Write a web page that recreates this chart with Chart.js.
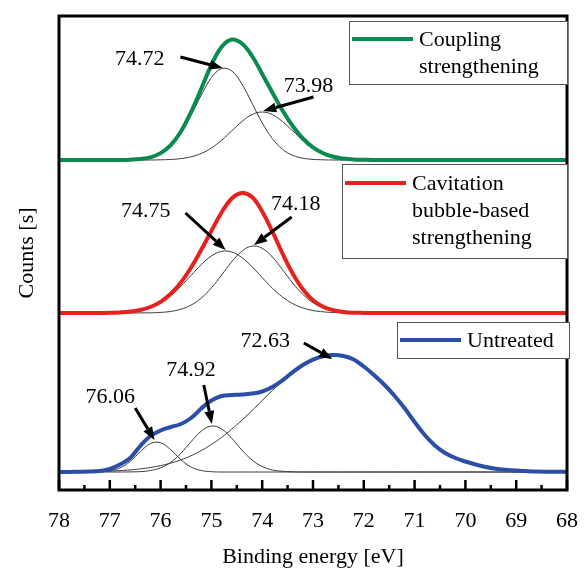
<!DOCTYPE html>
<html>
<head>
<meta charset="utf-8">
<title>XPS Si 2p spectra</title>
<script src="https://cdn.jsdelivr.net/npm/chart.js@4.4.1/dist/chart.umd.min.js"></script>
<style>
  html, body { margin: 0; padding: 0; background: #fff; }
  #wrap { width: 588px; height: 570px; }
</style>
</head>
<body>
<div id="wrap"><canvas id="xpsChart" width="588" height="570"></canvas></div>
<script>
// -------------------------------
// Data (arbitrary counts)
// -------------------------------
const energy = [78.0, 77.8, 77.6, 77.4, 77.2, 77.0, 76.8, 76.6, 76.4, 76.2,
  76.0, 75.8, 75.6, 75.4, 75.2, 75.0, 74.8, 74.6, 74.4, 74.2,
  74.0, 73.8, 73.6, 73.4, 73.2, 73.0, 72.8, 72.6, 72.4, 72.2,
  72.0, 71.8, 71.6, 71.4, 71.2, 71.0, 70.8, 70.6, 70.4, 70.2,
  70.0, 69.8, 69.6, 69.4, 69.2, 69.0, 68.8, 68.6, 68.4, 68.2,
  68.0];

// Coupling strengthening
const couplingEnvelope = [0, 0, 0, 0, 0, 0, 0, 0.3, 1.0, 2.7,
  6.9, 14.9, 28.5, 48.0, 71.3, 95.0, 113.0, 120.5, 116.5, 104.0,
  86.0, 67.5, 49.5, 34.0, 21.5, 12.6, 6.7, 3.2, 1.4, 0.5,
  0.2, 0, 0, 0, 0, 0, 0, 0, 0, 0,
  0, 0, 0, 0, 0, 0, 0, 0, 0, 0,
  0];
const couplingPeak7472 = [0, 0, 0, 0, 0, 0, 0, 0.3, 1.0, 2.7,
  6.7, 14.4, 27.1, 44.8, 64.8, 82.3, 91.4, 89.1, 76.0, 56.8,
  37.2, 21.4, 10.7, 4.7, 1.8, 0.6, 0.2, 0, 0, 0,
  0, 0, 0, 0, 0, 0, 0, 0, 0, 0,
  0, 0, 0, 0, 0, 0, 0, 0, 0, 0,
  0];
const couplingPeak7398 = [0, 0, 0, 0, 0, 0, 0, 0, 0, 0,
  0.2, 0.5, 1.4, 3.2, 6.5, 12.0, 19.7, 29.1, 38.4, 45.4,
  48.0, 45.4, 38.4, 29.1, 19.7, 12.0, 6.5, 3.2, 1.4, 0.5,
  0.2, 0, 0, 0, 0, 0, 0, 0, 0, 0,
  0, 0, 0, 0, 0, 0, 0, 0, 0, 0,
  0];

// Cavitation bubble-based strengthening
const cavitationEnvelope = [0, 0, 0, 0, 0.1, 0.2, 0.6, 1.4, 3.0, 6.0,
  11.1, 19.2, 30.6, 45.5, 63.2, 82.1, 100.5, 114.5, 120.0, 116.0,
  101.5, 81.5, 59.5, 39.5, 23.7, 12.8, 6.3, 2.8, 1.1, 0.3,
  0.1, 0, 0, 0, 0, 0, 0, 0, 0, 0,
  0, 0, 0, 0, 0, 0, 0, 0, 0, 0,
  0];
const cavitationPeak7475 = [0, 0, 0, 0, 0.1, 0.2, 0.6, 1.4, 2.9, 5.8,
  10.5, 17.6, 26.8, 37.6, 48.3, 57.0, 61.6, 61.0, 55.5, 46.3,
  35.4, 24.8, 16.0, 9.4, 5.1, 2.5, 1.2, 0.5, 0.2, 0,
  0, 0, 0, 0, 0, 0, 0, 0, 0, 0,
  0, 0, 0, 0, 0, 0, 0, 0, 0, 0,
  0];
const cavitationPeak7418 = [0, 0, 0, 0, 0, 0, 0, 0, 0.1, 0.2,
  0.6, 1.6, 3.8, 7.9, 14.9, 25.1, 37.9, 51.2, 61.8, 66.9,
  64.7, 56.0, 43.3, 30.0, 18.6, 10.3, 5.1, 2.3, 0.9, 0.3,
  0.1, 0, 0, 0, 0, 0, 0, 0, 0, 0,
  0, 0, 0, 0, 0, 0, 0, 0, 0, 0,
  0];

// Untreated
const untreatedEnvelope = [0.1, 0.1, 0.2, 0.4, 1.0, 3.0, 7.5, 14.0, 26.0, 36.0,
  41.5, 45.0, 48.0, 54.0, 63.5, 71.5, 76.0, 77.0, 77.5, 78.5,
  80.5, 85.0, 91.7, 99.8, 107.0, 112.4, 115.8, 117.0, 116.0, 112.5,
  105.5, 97.0, 87.5, 76.5, 64.0, 50.0, 37.0, 26.5, 19.0, 14.0,
  10.5, 7.5, 5.0, 3.3, 2.2, 1.4, 0.9, 0.5, 0.3, 0.2,
  0.1];
const untreatedPeak7606 = [0, 0, 0, 0, 0.2, 1.1, 4.1, 10.6, 20.2, 28.4,
  29.3, 22.2, 12.3, 5.0, 1.5, 0.3, 0, 0, 0, 0,
  0, 0, 0, 0, 0, 0, 0, 0, 0, 0,
  0, 0, 0, 0, 0, 0, 0, 0, 0, 0,
  0, 0, 0, 0, 0, 0, 0, 0, 0, 0,
  0];
const untreatedPeak7492 = [0, 0, 0, 0, 0, 0, 0, 0.1, 0.4, 1.5,
  4.2, 9.7, 18.7, 30.3, 40.8, 45.9, 43.1, 33.7, 22.0, 12.0,
  5.5, 2.1, 0.7, 0.2, 0, 0, 0, 0, 0, 0,
  0, 0, 0, 0, 0, 0, 0, 0, 0, 0,
  0, 0, 0, 0, 0, 0, 0, 0, 0, 0,
  0];
const untreatedPeak7263 = [0.1, 0.1, 0.2, 0.4, 0.6, 0.9, 1.4, 2.1, 3.1, 4.5,
  6.4, 8.9, 12.2, 16.3, 21.4, 27.5, 34.6, 42.8, 51.8, 61.4,
  71.5, 81.5, 91.0, 99.6, 106.9, 112.4, 115.8, 117.0, 116.0, 112.5,
  105.5, 97.0, 87.5, 76.5, 64.0, 50.0, 37.0, 26.5, 19.0, 14.0,
  10.5, 7.5, 5.0, 3.3, 2.2, 1.4, 0.9, 0.5, 0.3, 0.2,
  0.1];

// Axis ticks
const tickValues = [78, 77, 76, 75, 74, 73, 72, 71, 70, 69, 68];
const minorTickValues = [77.5, 76.5, 75.5, 74.5, 73.5, 72.5, 71.5, 70.5, 69.5, 68.5];

// Legend names
const couplingName = ['Coupling', 'strengthening'];
const cavitationName = ['Cavitation', 'bubble-based', 'strengthening'];
const untreatedName = ['Untreated'];

// -------------------------------
// Layout / style
// -------------------------------
const FONT = '"Liberation Serif", "Times New Roman", serif';
const THIN = '#3a3a3a';
const GREEN = '#0b8a50';
const RED = '#e8211c';
const BLUE = '#2b4fa6';

// vertical offset of each panel (plot units, axis runs 0..474)
const base = { coupling: 330, cavitation: 177, untreated: 18 };

// peak labels: text position, arrow tail and arrow tip in (eV, counts above panel base)
const notes = [
  { panel: 'coupling', text: '74.72', at: [76.41, 101], tail: [75.61, 103], tip: [74.78, 92] },
  { panel: 'coupling', text: '73.98', at: [73.09, 74], tail: [72.99, 63], tip: [73.98, 49] },
  { panel: 'cavitation', text: '74.75', at: [76.29, 102], tail: [75.51, 100], tip: [74.72, 63] },
  { panel: 'cavitation', text: '74.18', at: [73.34, 109], tail: [73.42, 96], tip: [74.16, 68] },
  { panel: 'untreated', text: '76.06', at: [76.99, 75], tail: [76.50, 64], tip: [76.12, 32] },
  { panel: 'untreated', text: '74.92', at: [75.40, 102], tail: [75.15, 87], tip: [74.99, 48] },
  { panel: 'untreated', text: '72.63', at: [73.94, 131], tail: [73.18, 129], tip: [72.62, 113] }
];

// legend boxes in canvas pixels
const legends = [
  { names: couplingName, color: GREEN, x: 349, y: 21, w: 218, h: 63, lineY: 39 },
  { names: cavitationName, color: RED, x: 342, y: 164, w: 225, h: 94, lineY: 183 },
  { names: untreatedName, color: BLUE, x: 397, y: 322, w: 172, h: 36, lineY: 340 }
];

function curve(values, offset, color, width, order) {
  return {
    data: energy.map((e, i) => ({ x: e, y: offset + values[i] })),
    borderColor: color,
    borderWidth: width,
    pointRadius: 0,
    fill: false,
    tension: 0.4,
    order: order
  };
}

function drawArrow(ctx, x0, y0, x1, y1) {
  const ang = Math.atan2(y1 - y0, x1 - x0);
  const head = 13, half = 5;
  const bx = x1 - head * Math.cos(ang), by = y1 - head * Math.sin(ang);
  ctx.lineWidth = 3;
  ctx.beginPath();
  ctx.moveTo(x0, y0);
  ctx.lineTo(bx, by);
  ctx.stroke();
  ctx.beginPath();
  ctx.moveTo(x1, y1);
  ctx.lineTo(bx + half * Math.sin(ang), by - half * Math.cos(ang));
  ctx.lineTo(bx - half * Math.sin(ang), by + half * Math.cos(ang));
  ctx.closePath();
  ctx.fill();
}

// frame, inward ticks, peak labels and legends
const xpsDecor = {
  id: 'xpsDecor',
  afterDatasetsDraw(chart) {
    const { ctx, chartArea: a, scales: { x, y } } = chart;
    ctx.save();
    ctx.strokeStyle = '#000';
    ctx.fillStyle = '#000';

    ctx.lineWidth = 3;
    ctx.strokeRect(a.left, a.top, a.right - a.left, a.bottom - a.top);

    ctx.lineWidth = 2.5;
    const tick = (v, len) => {
      const px = x.getPixelForValue(v);
      ctx.beginPath();
      ctx.moveTo(px, a.bottom);
      ctx.lineTo(px, a.bottom - len);
      ctx.stroke();
    };
    tickValues.forEach(v => tick(v, 10));
    minorTickValues.forEach(v => tick(v, 5));

    ctx.font = '22px ' + FONT;
    ctx.textAlign = 'center';
    ctx.textBaseline = 'middle';
    notes.forEach(n => {
      const b = base[n.panel];
      ctx.fillText(n.text, x.getPixelForValue(n.at[0]), y.getPixelForValue(b + n.at[1]));
      drawArrow(ctx,
        x.getPixelForValue(n.tail[0]), y.getPixelForValue(b + n.tail[1]),
        x.getPixelForValue(n.tip[0]), y.getPixelForValue(b + n.tip[1]));
    });

    ctx.textAlign = 'left';
    legends.forEach(l => {
      ctx.fillStyle = '#fff';
      ctx.fillRect(l.x, l.y, l.w, l.h);
      ctx.strokeStyle = '#555';
      ctx.lineWidth = 1;
      ctx.strokeRect(l.x + 0.5, l.y + 0.5, l.w, l.h);
      ctx.strokeStyle = l.color;
      ctx.lineWidth = 4;
      ctx.beginPath();
      ctx.moveTo(l.x + 3, l.lineY);
      ctx.lineTo(l.x + 64, l.lineY);
      ctx.stroke();
      ctx.fillStyle = '#000';
      l.names.forEach((t, i) => ctx.fillText(t, l.x + 70, l.lineY + 1 + i * 27));
    });
    ctx.restore();
  }
};

// -------------------------------
// Chart
// -------------------------------
try {
  new Chart(document.getElementById('xpsChart').getContext('2d'), {
    type: 'line',
    data: {
      datasets: [
        curve(couplingEnvelope, base.coupling, GREEN, 4, 0),
        curve(couplingPeak7472, base.coupling, THIN, 1, 1),
        curve(couplingPeak7398, base.coupling, THIN, 1, 1),
        curve(cavitationEnvelope, base.cavitation, RED, 4, 0),
        curve(cavitationPeak7475, base.cavitation, THIN, 1, 1),
        curve(cavitationPeak7418, base.cavitation, THIN, 1, 1),
        curve(untreatedEnvelope, base.untreated, BLUE, 4, 0),
        curve(untreatedPeak7606, base.untreated, THIN, 1, 1),
        curve(untreatedPeak7492, base.untreated, THIN, 1, 1),
        curve(untreatedPeak7263, base.untreated, THIN, 1, 1)
      ]
    },
    options: {
      responsive: false,
      animation: false,
      devicePixelRatio: 1,
      layout: { padding: { top: 16, right: 14, left: 0, bottom: 0 } },
      plugins: { legend: { display: false }, tooltip: { enabled: false } },
      scales: {
        x: {
          type: 'linear',
          min: 68,
          max: 78,
          reverse: true,
          grid: { display: false },
          border: { display: false },
          afterBuildTicks: (axis) => { axis.ticks = tickValues.map(v => ({ value: v })); },
          afterFit: (axis) => { axis.height = 80; },
          ticks: { color: '#000', font: { family: FONT, size: 22 }, padding: 10, maxRotation: 0, autoSkip: false },
          title: { display: true, text: 'Binding energy [eV]', color: '#000', font: { family: FONT, size: 22 }, padding: 0 }
        },
        y: {
          min: 0,
          max: 474,
          grid: { display: false },
          border: { display: false },
          ticks: { display: false },
          afterFit: (axis) => { axis.width = 59; },
          title: { display: true, text: 'Counts [s]', color: '#000', font: { family: FONT, size: 22 }, padding: { top: 14, bottom: 0 } }
        }
      }
    },
    plugins: [xpsDecor]
  });
} catch (e) { console.error('xps chart error', e); }
</script>
</body>
</html>
